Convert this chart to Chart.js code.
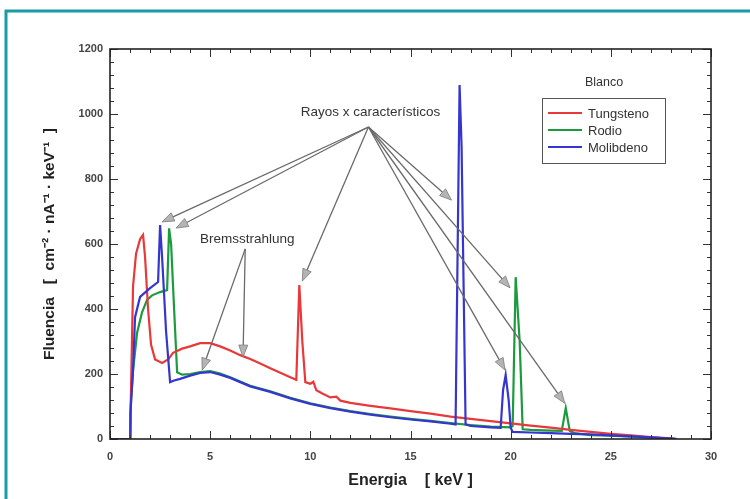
<!DOCTYPE html>
<html>
<head>
<meta charset="utf-8">
<script src="https://cdn.jsdelivr.net/npm/chart.js@4.4.0/dist/chart.umd.min.js"></script>
<style>
  html, body { margin: 0; padding: 0; background: #fff; }
</style>
</head>
<body>
<canvas id="espectro" width="750" height="499"></canvas>
<script>
// --- Datos (energia en keV, fluencia) ---
const tungstenE = [0, 1.0, 1.08, 1.15, 1.3, 1.5, 1.65, 1.75, 1.9, 2.05, 2.25, 2.6, 2.9, 3.15, 3.6, 4.0, 4.5, 5.0, 5.5, 6.0, 6.5, 7.0, 7.5, 8.0, 8.5, 9.0, 9.3, 9.45, 9.6, 9.75, 10.0, 10.15, 10.3, 10.6, 11.0, 11.3, 11.5, 12, 13, 14, 15, 16, 17, 18, 19, 20, 21, 22, 23, 24, 25, 26, 27, 28, 28.3];
const tungstenF = [0, 0, 250, 470, 570, 615, 628, 560, 400, 290, 245, 234, 245, 265, 278, 285, 295, 295, 285, 272, 258, 246, 232, 218, 204, 190, 182, 474, 300, 175, 170, 176, 150, 140, 128, 130, 118, 111, 102, 94, 86, 78, 69, 62, 55, 48, 41, 35, 28, 22, 16, 11, 6, 2, 0];

const rhodiumE = [0, 1.0, 1.05, 1.15, 1.35, 1.6, 1.85, 2.1, 2.5, 2.85, 2.95, 3.05, 3.2, 3.35, 3.6, 4.0, 4.5, 5.0, 5.5, 6, 7, 8, 9, 10, 11, 12, 13, 14, 15, 16, 17, 18, 19, 20, 20.1, 20.25, 20.45, 20.6, 21, 22, 22.55, 22.75, 22.95, 23.2, 24, 25, 26, 27, 28, 28.3];
const rhodiumF = [0, 0, 120, 210, 326, 390, 428, 442, 452, 458, 648, 600, 400, 205, 198, 200, 206, 209, 201, 190, 164, 147, 127, 110, 97, 86, 77, 69, 62, 56, 49, 43, 38, 36, 40, 498, 300, 30, 28, 26, 25, 95, 25, 18, 12, 10, 7, 4, 1, 0];

const molybdenumE = [0, 1.0, 1.02, 1.15, 1.25, 1.5, 2.0, 2.4, 2.5, 2.6, 2.8, 3.0, 3.2, 3.5, 4.0, 4.5, 5.0, 5.5, 6, 7, 8, 9, 10, 11, 12, 13, 14, 15, 16, 17, 17.25, 17.45, 17.55, 17.75, 18, 19, 19.5, 19.62, 19.75, 19.9, 20.0, 20.1, 21, 22, 23, 24, 25, 26, 27, 28, 28.3];
const molybdenumF = [0, 0, 80, 212, 375, 437, 464, 483, 658, 560, 330, 175, 180, 185, 195, 203, 206, 198, 188, 162, 145, 125, 108, 95, 84, 75, 67, 60, 54, 47, 45, 1089, 900, 45, 40, 36, 34, 150, 197, 120, 35, 22, 20, 18, 16, 14, 11, 8, 5, 1, 0];

const seriesNames = ['Tungsteno', 'Rodio', 'Molibdeno'];
const seriesColors = ['#e8383a', '#1c9a3e', '#3535cf'];

const xTicks = [0, 5, 10, 15, 20, 25, 30];
const yTicks = [0, 200, 400, 600, 800, 1000, 1200];

// flechas de anotacion (origen y destino en unidades de datos)
const rayosOrigin = [12.9, 960];
const rayosTargets = [[2.6, 668], [3.3, 649], [9.6, 486], [17.05, 735], [19.97, 465], [19.72, 212], [22.7, 110]];
const bremsOrigin = [6.75, 585];
const bremsTargets = [[4.6, 212], [6.64, 252]];

const FONT = '"Liberation Sans", Arial, sans-serif';

function toPoints(xs, ys) {
    return xs.map((v, i) => ({ x: v, y: ys[i] }));
}

function arrow(ctx, x0, y0, x1, y1) {
    const ang = Math.atan2(y1 - y0, x1 - x0);
    const len = 12, half = 4.5;
    const bx = x1 - len * Math.cos(ang), by = y1 - len * Math.sin(ang);
    ctx.beginPath();
    ctx.moveTo(x0, y0);
    ctx.lineTo(bx, by);
    ctx.strokeStyle = '#6a6a6a';
    ctx.lineWidth = 1.3;
    ctx.stroke();
    ctx.beginPath();
    ctx.moveTo(x1, y1);
    ctx.lineTo(bx + half * Math.sin(ang), by - half * Math.cos(ang));
    ctx.lineTo(bx - half * Math.sin(ang), by + half * Math.cos(ang));
    ctx.closePath();
    ctx.fillStyle = '#b4b4b4';
    ctx.fill();
    ctx.strokeStyle = '#7a7a7a';
    ctx.lineWidth = 0.8;
    ctx.stroke();
}

// marco, ticks interiores, flechas y leyenda
const decorPlugin = {
    id: 'decor',
    beforeDraw(chart) {
        const ctx = chart.ctx;
        ctx.save();
        ctx.fillStyle = '#fff';
        ctx.fillRect(0, 0, chart.width, chart.height);
        ctx.strokeStyle = '#1b9ba3';
        ctx.lineWidth = 3;
        ctx.beginPath();
        ctx.moveTo(6, chart.height);
        ctx.lineTo(6, 11);
        ctx.lineTo(chart.width, 11);
        ctx.stroke();
        ctx.restore();
    },
    afterDatasetsDraw(chart) {
        const { ctx, chartArea: a, scales: { x, y } } = chart;
        ctx.save();

        // ticks
        ctx.strokeStyle = '#333';
        ctx.lineWidth = 1;
        ctx.beginPath();
        for (let v = 0; v <= 30; v += 1) {
            const px = Math.round(x.getPixelForValue(v)) + 0.5;
            const len = v % 5 === 0 ? 8 : 4;
            ctx.moveTo(px, a.bottom); ctx.lineTo(px, a.bottom - len);
            ctx.moveTo(px, a.top); ctx.lineTo(px, a.top + len);
        }
        for (let v = 0; v <= 1200; v += 40) {
            const py = Math.round(y.getPixelForValue(v)) + 0.5;
            const len = v % 200 === 0 ? 8 : 4;
            ctx.moveTo(a.left, py); ctx.lineTo(a.left + len, py);
            ctx.moveTo(a.right, py); ctx.lineTo(a.right - len, py);
        }
        ctx.stroke();

        ctx.strokeStyle = '#222';
        ctx.lineWidth = 1.6;
        ctx.strokeRect(a.left, a.top, a.right - a.left, a.bottom - a.top);

        // flechas
        const ox = x.getPixelForValue(rayosOrigin[0]), oy = y.getPixelForValue(rayosOrigin[1]);
        rayosTargets.forEach(t => arrow(ctx, ox, oy, x.getPixelForValue(t[0]), y.getPixelForValue(t[1])));
        const bx = x.getPixelForValue(bremsOrigin[0]), by = y.getPixelForValue(bremsOrigin[1]);
        bremsTargets.forEach(t => arrow(ctx, bx, by, x.getPixelForValue(t[0]), y.getPixelForValue(t[1])));

        ctx.fillStyle = '#333';
        ctx.textAlign = 'center';
        ctx.textBaseline = 'middle';
        ctx.font = '13.5px ' + FONT;
        ctx.fillText('Rayos x característicos', ox + 2, oy - 15);
        ctx.fillText('Bremsstrahlung', bx + 2, by - 10);

        // leyenda
        const lx = a.right - 169, ly = a.top + 49;
        ctx.font = '12.5px ' + FONT;
        ctx.fillText('Blanco', lx + 62, ly - 15);
        ctx.strokeStyle = '#555';
        ctx.lineWidth = 1;
        ctx.strokeRect(lx + 0.5, ly + 0.5, 123, 65);
        ctx.textAlign = 'left';
        ctx.font = '13px ' + FONT;
        seriesNames.forEach((name, i) => {
            const ry = ly + 15 + i * 17;
            ctx.strokeStyle = seriesColors[i];
            ctx.lineWidth = 2;
            ctx.beginPath();
            ctx.moveTo(lx + 6, ry); ctx.lineTo(lx + 40, ry);
            ctx.stroke();
            ctx.fillStyle = '#333';
            ctx.fillText(name, lx + 46, ry + 1);
        });
        ctx.restore();
    }
};

const seriesData = [
    toPoints(tungstenE, tungstenF),
    toPoints(rhodiumE, rhodiumF),
    toPoints(molybdenumE, molybdenumF)
];
const drawOrder = [1, 2, 0];

new Chart(document.getElementById('espectro'), {
    type: 'scatter',
    data: {
        datasets: seriesNames.map((name, i) => ({
            label: name,
            data: seriesData[i],
            showLine: true,
            borderColor: seriesColors[i],
            borderWidth: 2.2,
            pointRadius: 0,
            tension: 0,
            order: drawOrder[i]
        }))
    },
    options: {
        responsive: false,
        animation: false,
        layout: { padding: { left: 0, top: 49, right: 39, bottom: 0 } },
        plugins: { legend: { display: false }, tooltip: { enabled: false } },
        scales: {
            x: {
                type: 'linear',
                min: 0, max: 30,
                afterFit: s => { s.height = 60; },
                afterBuildTicks: s => { s.ticks = xTicks.map(v => ({ value: v })); },
                grid: { display: false, drawTicks: false },
                border: { display: false },
                ticks: { padding: 11, color: '#444', font: { family: FONT, size: 11, weight: 'bold' }, maxRotation: 0, callback: v => String(v) },
                title: { display: true, text: 'Energia    [ keV ]', color: '#222', padding: { top: 0, bottom: 9 }, font: { family: FONT, size: 16, weight: 'bold' } }
            },
            y: {
                type: 'linear',
                min: 0, max: 1200,
                afterFit: s => { s.width = 110; },
                afterBuildTicks: s => { s.ticks = yTicks.map(v => ({ value: v })); },
                grid: { display: false, drawTicks: false },
                border: { display: false },
                ticks: { padding: 7, color: '#444', font: { family: FONT, size: 11, weight: 'bold' }, callback: v => String(v) },
                title: { display: true, text: 'Fluencia   [  cm⁻² · nA⁻¹ · keV⁻¹  ]', color: '#222', padding: { top: 40, bottom: 0 }, font: { family: FONT, size: 15.5, weight: 'bold' } }
            }
        }
    },
    plugins: [decorPlugin]
});
</script>
</body>
</html>
